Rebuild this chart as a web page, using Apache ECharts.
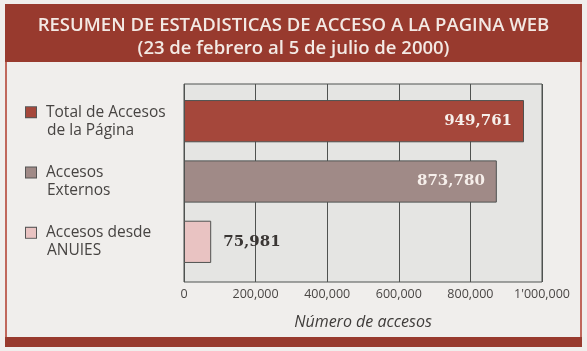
<!DOCTYPE html>
<html>
<head>
<meta charset="utf-8">
<script src="https://cdn.jsdelivr.net/npm/echarts@6/dist/echarts.min.js"></script>
<style>
    html, body { margin: 0; padding: 0; background: #f0eeec; }
    #chart { width: 587px; height: 351px; }
</style>
</head>
<body>
<div id="chart"></div>
<script>
// datos
var categorias = ['Total de Accesos\nde la Página', 'Accesos\nExternos', 'Accesos desde\nANUIES'];
var accesos = [949761, 873780, 75981];
var colores = ['#a5473b', '#a08a87', '#e9c3c2'];
var etiquetasX = ['0', '200,000', '400,000', '600,000', '800,000', "1'000,000"];

var rojo = '#983a2e';

function formatoMiles(n) {
    return String(n).replace(/\B(?=(\d{3})+(?!\d))/g, ',');
}

// arma la etiqueta del eje con el cuadrito de color
var rich = {
    t: { fontFamily: 'Open Sans', fontSize: 15.5, color: '#474442', lineHeight: 18 },
    p0: { width: 10, height: 11 },
    p: { width: 21, height: 11 }
};
categorias.forEach(function (c, i) {
    rich['s' + i] = { width: 10, height: 10, backgroundColor: colores[i], borderColor: '#555', borderWidth: 1 };
});

var barras = accesos.map(function (v, i) {
    var dentro = i < 2;
    return {
        value: v,
        itemStyle: { color: colores[i] },
        label: {
            show: true,
            position: dentro ? 'insideRight' : 'right',
            distance: 12,
            formatter: formatoMiles(v),
            fontFamily: 'DejaVu Serif',
            fontWeight: 'bold',
            fontSize: 15,
            color: dentro ? '#f6efeb' : '#3a3634'
        }
    };
});

var myChart = echarts.init(document.getElementById('chart'));
myChart.setOption({
    backgroundColor: '#f0eeec',
    animation: false,
    graphic: [
        { type: 'rect', shape: { x: 5, y: 4, width: 577, height: 58 }, style: { fill: rojo }, silent: true },
        { type: 'rect', shape: { x: 5, y: 62, width: 2, height: 280 }, style: { fill: '#c0685c' }, silent: true },
        { type: 'rect', shape: { x: 580, y: 62, width: 2, height: 280 }, style: { fill: '#c0685c' }, silent: true },
        { type: 'rect', shape: { x: 5, y: 337, width: 577, height: 10 }, style: { fill: rojo }, silent: true }
    ],
    title: {
        text: 'RESUMEN DE ESTADISTICAS DE ACCESO A LA PAGINA WEB\n(23 de febrero al 5 de julio de 2000)',
        left: 'center',
        top: 9,
        textStyle: {
            fontFamily: 'Open Sans',
            fontWeight: 600,
            fontSize: 18.5,
            lineHeight: 23,
            color: '#f3e9e4'
        }
    },
    // grid 0: marco, rejilla y eje x; grid 1: las barras
    grid: [{
        left: 184,
        right: 45,
        top: 84,
        bottom: 69,
        show: true,
        backgroundColor: '#e5e5e3',
        borderColor: '#4f5250',
        borderWidth: 1
    }, {
        left: 184,
        right: 45,
        top: 91,
        bottom: 79
    }],
    xAxis: [{
        gridIndex: 0,
        type: 'value',
        min: 0,
        max: 1000000,
        interval: 200000,
        name: 'Número de accesos',
        nameLocation: 'middle',
        nameGap: 32,
        nameTextStyle: { fontFamily: 'Open Sans', fontStyle: 'italic', fontSize: 16, color: '#3f3c3a' },
        axisLine: { show: false },
        axisTick: { show: false },
        splitLine: { lineStyle: { color: '#4f5250', width: 1 } },
        axisLabel: {
            margin: 6,
            fontFamily: 'Open Sans',
            fontSize: 12.5,
            color: '#4a4745',
            formatter: function (v) { return etiquetasX[Math.round(v / 200000)]; }
        }
    }, {
        gridIndex: 1,
        type: 'value',
        min: 0,
        max: 1000000,
        show: false
    }],
    yAxis: [{
        gridIndex: 0,
        type: 'value',
        show: false
    }, {
        gridIndex: 1,
        type: 'category',
        inverse: true,
        data: categorias,
        axisLine: { show: false },
        axisTick: { show: false },
        axisLabel: {
            align: 'left',
            margin: 158,
            rich: rich,
            formatter: function (v, i) {
                var lineas = v.split('\n');
                return '{s' + i + '|}{p0|}{t|' + lineas[0] + '}\n{p|}{t|' + lineas[1] + '}';
            }
        }
    }],
    series: [{
        type: 'bar',
        xAxisIndex: 1,
        yAxisIndex: 1,
        data: barras,
        barCategoryGap: '30%',
        itemStyle: { borderColor: '#4f5250', borderWidth: 1 }
    }]
});
</script>
</body>
</html>
